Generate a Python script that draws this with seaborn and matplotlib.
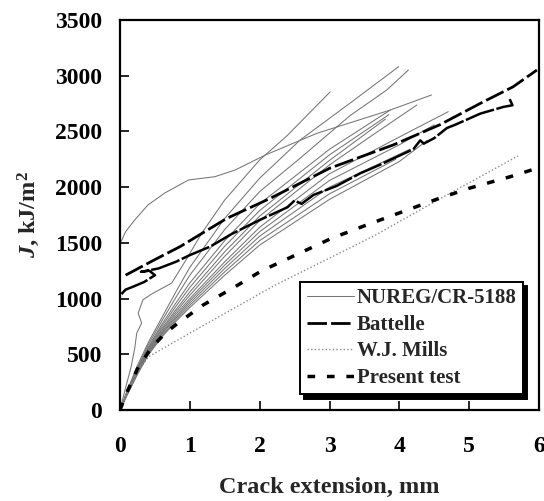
import matplotlib
matplotlib.use("Agg")
import matplotlib.pyplot as plt
import seaborn as sns

# crack extension (mm) / J (kJ/m^2)
nureg_x = [
    [0.0, 0.08, 0.21, 0.4, 0.64, 0.98, 1.36, 1.65, 2.08, 2.82, 3.87, 4.46],
    [0.0, 0.08, 0.16, 0.21, 0.24, 0.31, 0.26, 0.33, 0.45, 0.74, 0.93, 1.17, 1.5, 2.0, 2.39, 3.01],
    [0.0, 0.1, 0.25, 0.4, 0.6, 0.8, 1.0, 1.5, 2.0, 2.58, 3.29, 3.99],
    [0.0, 0.1, 0.25, 0.4, 0.6, 0.8, 1.0, 1.5, 2.0, 2.58, 3.29, 3.82, 4.13],
    [0.0, 0.1, 0.25, 0.4, 0.6, 0.8, 1.0, 1.5, 2.0, 3.0, 3.87],
    [0.0, 0.1, 0.25, 0.4, 0.6, 0.8, 1.0, 1.5, 2.0, 3.0, 3.85],
    [0.0, 0.1, 0.25, 0.4, 0.6, 0.8, 1.0, 1.5, 2.0, 3.0, 3.8],
    [0.0, 0.1, 0.25, 0.4, 0.6, 0.8, 1.0, 1.5, 2.0, 3.0, 3.6, 4.25],
    [0.0, 0.1, 0.25, 0.4, 0.6, 0.8, 1.0, 1.5, 2.0, 3.0, 4.0, 4.7],
    [0.0, 0.1, 0.25, 0.4, 0.6, 0.8, 1.0, 1.5, 2.0, 3.0, 4.0, 4.5],
    [0.0, 0.1, 0.25, 0.4, 0.6, 0.8, 1.0, 1.5, 2.0, 3.0, 4.15],
    [0.0, 0.1, 0.25, 0.4, 0.6, 0.8, 1.0, 1.5, 2.0, 3.0, 3.95],
    [0.0, 0.1, 0.25, 0.4, 0.6, 0.8, 1.0, 1.5, 2.0, 3.0, 4.0, 4.4],
]
nureg_j = [
    [1490, 1600, 1705, 1840, 1947, 2064, 2094, 2154, 2288, 2483, 2692, 2827],
    [0, 200, 390, 550, 690, 780, 870, 990, 1040, 1139, 1331, 1586, 1885, 2244, 2460, 2855],
    [0, 170, 400, 600, 830, 1060, 1280, 1720, 2080, 2423, 2752, 3081],
    [0, 160, 380, 580, 800, 1010, 1210, 1620, 1960, 2260, 2640, 2872, 3051],
    [0, 160, 370, 560, 770, 960, 1140, 1520, 1850, 2340, 2692],
    [0, 155, 360, 550, 750, 930, 1100, 1470, 1790, 2290, 2650],
    [0, 150, 350, 540, 730, 900, 1060, 1420, 1740, 2240, 2610],
    [0, 150, 345, 530, 715, 880, 1030, 1380, 1700, 2200, 2460, 2737],
    [0, 145, 340, 520, 700, 860, 1000, 1330, 1640, 2120, 2450, 2677],
    [0, 140, 335, 510, 690, 840, 980, 1300, 1600, 2060, 2380, 2560],
    [0, 140, 330, 505, 680, 825, 960, 1270, 1560, 2000, 2340],
    [0, 135, 325, 495, 665, 810, 940, 1240, 1520, 1940, 2250],
    [0, 130, 320, 490, 655, 795, 920, 1210, 1480, 1890, 2230, 2420],
]

battelle_x = [
    [0.08, 0.5, 0.86, 1.53, 2.15, 3.0, 3.91, 4.58, 5.16, 5.63, 5.97],
    [0.02, 0.08, 0.2, 0.35, 0.5, 0.42, 0.3, 0.55, 0.8, 1.0, 1.29, 1.6, 2.0, 2.4, 2.5, 2.6,
     2.77, 3.1, 3.44, 3.72, 4.06, 4.2, 4.3, 4.35, 4.5, 4.68, 4.8, 5.16, 5.49, 5.62, 5.58],
]
battelle_j = [
    [1210, 1350, 1466, 1720, 1899, 2169, 2378, 2560, 2752, 2901, 3051],
    [1040, 1080, 1110, 1150, 1210, 1250, 1240, 1270, 1330, 1390, 1466, 1580, 1705, 1820, 1880, 1850,
     1930, 2010, 2124, 2200, 2300, 2340, 2420, 2390, 2440, 2530, 2560, 2660, 2720, 2735, 2790],
]

mills_x = [0.0, 0.1, 0.25, 0.41, 1.0, 2.22, 3.63, 4.58, 5.7]
mills_j = [0, 150, 340, 478, 690, 1120, 1560, 1895, 2280]

present_x = [0.0, 0.1, 0.25, 0.45, 0.65, 0.83, 1.19, 1.65, 2.03, 2.27, 3.03, 3.53, 4.01, 4.53, 5.0, 5.59, 6.0]
present_j = [0, 160, 370, 560, 690, 780, 942, 1107, 1250, 1319, 1541, 1660, 1771, 1890, 1990, 2094, 2175]

sns.set_theme(style="white")
plt.rcParams["font.family"] = ["Liberation Serif", "DejaVu Serif"]
plt.rcParams["font.weight"] = "bold"
plt.rcParams["mathtext.fontset"] = "custom"
plt.rcParams["mathtext.rm"] = "Liberation Serif:bold"
plt.rcParams["mathtext.it"] = "Liberation Serif:italic:bold"

fig = plt.figure(figsize=(5.44, 5.01), dpi=100)
ax = fig.add_axes([120 / 544, 91 / 501, 419 / 544, 390 / 501])

for i, (xs, js) in enumerate(zip(nureg_x, nureg_j)):
    sns.lineplot(x=xs, y=js, sort=False, estimator=None, ax=ax, color="#757575",
                 linewidth=0.75, label="NUREG/CR-5188" if i == 0 else None, legend=False)

sns.lineplot(x=battelle_x[0], y=battelle_j[0], sort=False, estimator=None, ax=ax, color="black",
             linewidth=2.0, linestyle=(0, (7, 1.5)), label="Battelle", legend=False)
sns.lineplot(x=battelle_x[1], y=battelle_j[1], sort=False, estimator=None, ax=ax, color="black",
             linewidth=1.8, linestyle=(0, (12, 1)), legend=False)

sns.lineplot(x=mills_x, y=mills_j, sort=False, estimator=None, ax=ax, color="#8a8a8a",
             linewidth=1.0, linestyle=(0, (1, 1.6)), label="W.J. Mills", legend=False)

sns.lineplot(x=present_x, y=present_j, sort=False, estimator=None, ax=ax, color="black",
             linewidth=2.5, linestyle=(0, (2.2, 3.4)), label="Present test", legend=False)

ax.set_xlim(0, 6)
ax.set_ylim(0, 3500)
ax.set_xticks(range(0, 7))
ax.set_yticks(range(0, 3501, 500))
ax.tick_params(axis="both", direction="in", length=6.5, width=1.2, labelsize=17,
               colors="black", top=False, right=False, left=True, bottom=True)
ax.tick_params(axis="x", pad=19)
ax.tick_params(axis="y", pad=13)
for s in ax.spines.values():
    s.set_color("black")
    s.set_linewidth(1.6)

ax.set_xlabel("Crack extension, mm", fontsize=17.5, fontweight="bold", labelpad=14)
ax.set_ylabel("$J$, kJ/m$^2$", fontsize=17.5, fontweight="bold", labelpad=9)

leg = ax.legend(loc="lower right", bbox_to_anchor=(0.962, 0.04), borderaxespad=0,
                fontsize=15, frameon=True, fancybox=False, edgecolor="black",
                shadow={"color": "black", "alpha": 1, "ox": 3, "oy": -3},
                handlelength=2.3, handletextpad=0.12, labelspacing=0.32,
                borderpad=0.3)
leg.get_frame().set_linewidth(1.4)

fig.savefig("out.png", dpi=100)
